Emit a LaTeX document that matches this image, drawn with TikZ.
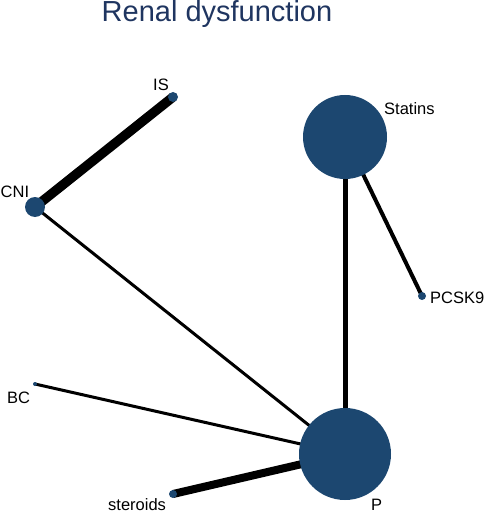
\documentclass[tikz,border=0pt]{standalone}
\usepackage{fontspec}
\setmainfont{Liberation Sans}
\definecolor{nodeblue}{HTML}{1C4770}
\definecolor{titleblue}{HTML}{1F3560}
\begin{document}
\begin{tikzpicture}[x=1pt,y=-1pt,
  trt/.style={circle,fill=nodeblue,draw=none,inner sep=0pt},
  lbl/.style={anchor=base west,inner sep=0pt,font=\fontsize{16.5}{18}\selectfont},
  edge/.style={draw=black,line cap=butt}]
\useasboundingbox (0,0) rectangle (484,513);
\node[anchor=base,inner sep=0pt,text=titleblue,font=\fontsize{29}{32}\selectfont] (title) at (217,22) {Renal dysfunction};
% nodes
\coordinate (cIS) at (173,97);
\coordinate (cCNI) at (35,207);
\coordinate (cSt) at (345,137);
\coordinate (cPC) at (422,296);
\coordinate (cBC) at (35,384);
\coordinate (cSter) at (173,494);
\coordinate (cP) at (345,454);
% edges
\draw[edge,line width=9.5pt] (cIS) -- (cCNI);
\draw[edge,line width=3pt] (cCNI) -- (cP);
\draw[edge,line width=5pt] (cSt) -- (cP);
\draw[edge,line width=4pt] (cSt) -- (cPC);
\draw[edge,line width=3pt] (cBC) -- (cP);
\draw[edge,line width=8pt] (cSter) -- (cP);
% circles
\node[trt,minimum size=10pt] (IS) at (cIS) {};
\node[trt,minimum size=20pt] (CNI) at (cCNI) {};
\node[trt,minimum size=84pt] (Statins) at (cSt) {};
\node[trt,minimum size=8pt] (PCSK9) at (cPC) {};
\node[trt,minimum size=4pt] (BC) at (cBC) {};
\node[trt,minimum size=8pt] (steroids) at (cSter) {};
\node[trt,minimum size=92pt] (P) at (cP) {};
% labels
\node[lbl] (lIS) at (153,91) {IS};
\node[lbl] (lSt) at (384,115) {Statins};
\node[lbl] (lCNI) at (0.5,197) {CNI};
\node[lbl] (lPC) at (430,303) {PCSK9};
\node[lbl] (lBC) at (7,403) {BC};
\node[lbl] (lSter) at (108,510.5) {steroids};
\node[lbl] (lP) at (371,510.5) {P};
\end{tikzpicture}
\end{document}
